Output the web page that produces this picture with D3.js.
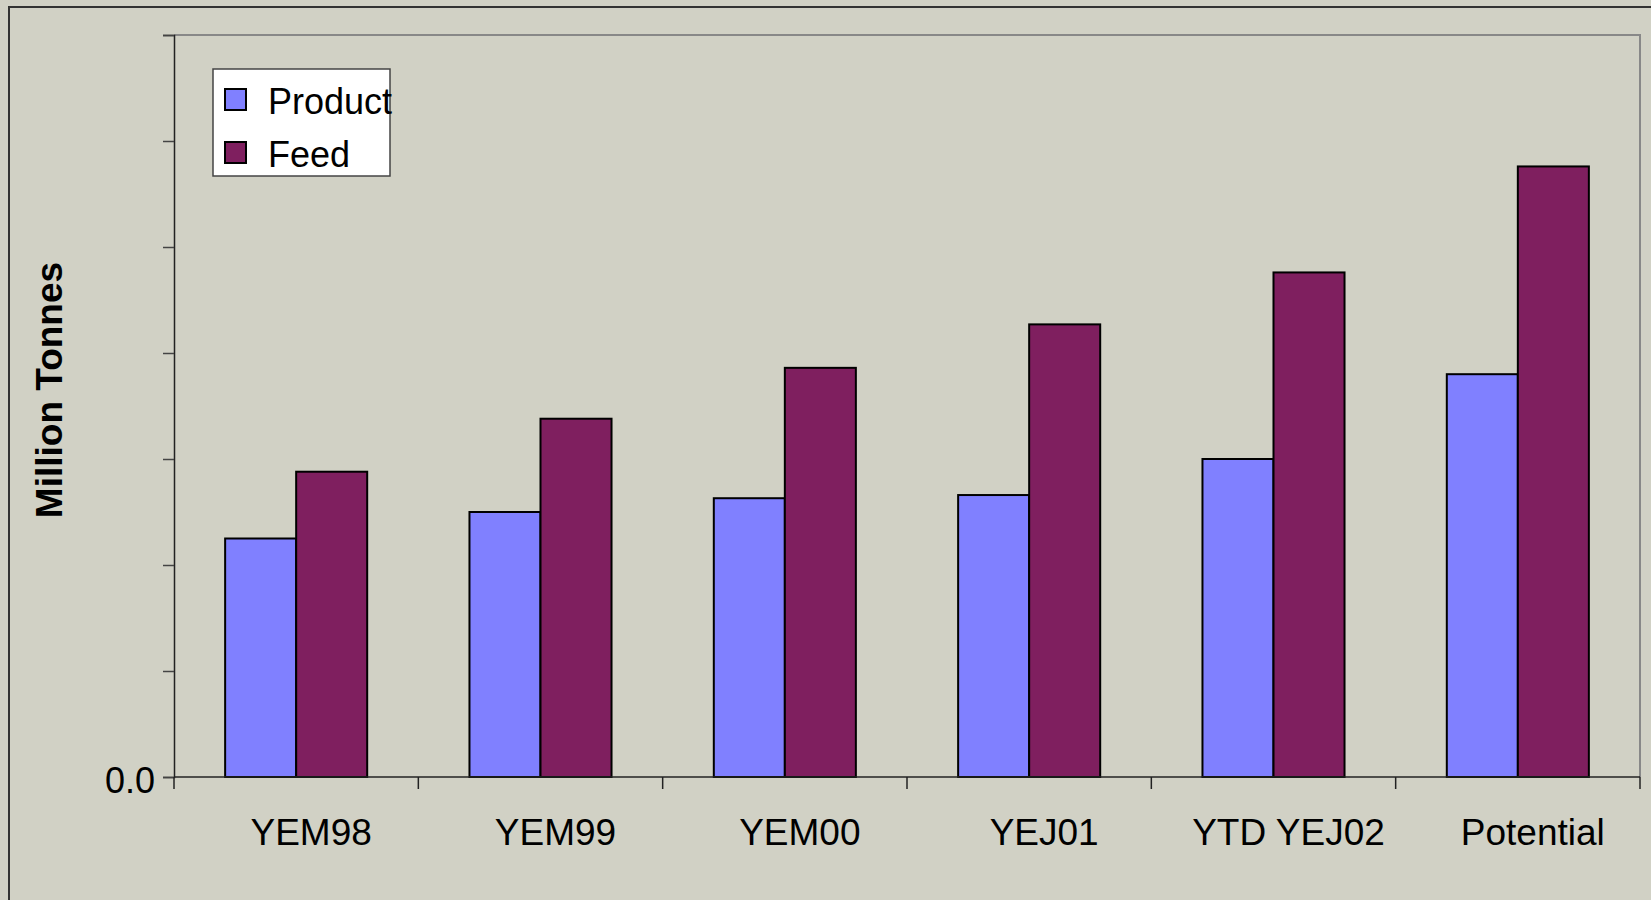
<!DOCTYPE html>
<html>
<head>
<meta charset="utf-8">
<script src="https://cdn.jsdelivr.net/npm/d3@7"></script>
<style>
    html, body { margin: 0; padding: 0; background: #d1d1c5; overflow: hidden; }
    svg { display: block; font-family: "Liberation Sans", Arial, sans-serif; }
</style>
</head>
<body>
<div id="chart"></div>
<script>
// Data :
const categories = ['YEM98', 'YEM99', 'YEM00', 'YEJ01', 'YTD YEJ02', 'Potential'];
const seriesNames = ['Product', 'Feed'];
const productValues = [2.25, 2.50, 2.63, 2.66, 3.00, 3.80];
const feedValues = [2.88, 3.38, 3.86, 4.27, 4.76, 5.76];
const yTicks = [0, 1, 2, 3, 4, 5, 6, 7];
const yTickLabels = ['0.0', '', '', '', '', '', '', ''];
const colors = { Product: '#8080ff', Feed: '#7f1f5f' };

const width = 1651, height = 900;
const margin = [35, 123, 174, 11]; // [top, bottom, left, right]

const svg = d3.select('#chart')
    .append('svg')
    .attr('width', width).attr('height', height);

// Outer chart frame (only left and top are inside the picture)
svg.append('path')
    .attr('d', `M9,${height} V7 H${width}`)
    .attr('fill', 'none')
    .attr('stroke', '#333')
    .attr('stroke-width', 2);

const plotW = width - margin[2] - margin[3],
    plotH = height - margin[0] - margin[1];

const chart = svg.append('g')
    .attr('transform', `translate(${margin[2]},${margin[0]})`);

// Scales :
const x0 = d3.scaleBand(categories, [0, plotW]);
const x1 = d3.scaleBand(seriesNames, [0, x0.bandwidth()]).paddingOuter(0.72);
const y = d3.scaleLinear([0, 7], [plotH, 0]);

// Plot area frame : grey top and right
chart.append('path')
    .attr('d', `M0,0 H${plotW} V${plotH}`)
    .attr('fill', 'none')
    .attr('stroke', '#888')
    .attr('stroke-width', 2);

// Bars
const rows = categories.map((c, i) => ({ cat: c, Product: productValues[i], Feed: feedValues[i] }));
chart.selectAll('g.group')
    .data(rows)
    .join('g')
    .classed('group', true)
    .attr('transform', d => `translate(${x0(d.cat)},0)`)
    .selectAll('rect')
    .data(d => seriesNames.map(s => ({ key: s, value: d[s] })))
    .join('rect')
    .attr('x', d => x1(d.key))
    .attr('y', d => y(d.value))
    .attr('width', x1.bandwidth())
    .attr('height', d => plotH - y(d.value))
    .attr('fill', d => colors[d.key])
    .attr('stroke', '#000')
    .attr('stroke-width', 2);

// Y axis
const axisY = chart.append('g')
    .call(d3.axisLeft(y).tickValues(yTicks).tickSize(11).tickPadding(8)
        .tickFormat((d, i) => yTickLabels[i]));
axisY.select('.domain').attr('stroke', '#222').attr('stroke-width', 1.5);
axisY.selectAll('.tick line').attr('stroke', '#444').attr('stroke-width', 1.5);
axisY.selectAll('.tick text')
    .attr('fill', '#000')
    .style('font-size', '36px')
    .attr('dy', '0.42em');

// X axis : ticks at band boundaries, labels (offset a bit right, like the original)
const axisX = chart.append('g')
    .attr('transform', `translate(0,${plotH})`);
axisX.append('line')
    .attr('x1', 0).attr('x2', plotW)
    .attr('stroke', '#222').attr('stroke-width', 1.5);
axisX.selectAll('line.tick')
    .data(categories.map(c => x0(c)).concat([plotW]))
    .join('line')
    .classed('tick', true)
    .attr('x1', d => d).attr('x2', d => d)
    .attr('y1', 0).attr('y2', 12)
    .attr('stroke', '#222').attr('stroke-width', 1.5);
axisX.selectAll('text')
    .data(categories)
    .join('text')
    .attr('x', d => x0(d) + x0.bandwidth() / 2 + 15)
    .attr('y', 68)
    .attr('text-anchor', 'middle')
    .style('font-size', '37px')
    .text(d => d);

// Y title
svg.append('text')
    .attr('transform', `translate(62,390) rotate(-90)`)
    .attr('text-anchor', 'middle')
    .style('font-size', '37px')
    .style('font-weight', 'bold')
    .text('Million Tonnes');

// Legend
const legend = svg.append('g')
    .attr('transform', 'translate(213,69)');
legend.append('rect')
    .attr('width', 177).attr('height', 107)
    .attr('fill', '#fff')
    .attr('stroke', '#444').attr('stroke-width', 1.5);
const items = legend.selectAll('g.item')
    .data(seriesNames)
    .join('g')
    .classed('item', true)
    .attr('transform', (d, i) => `translate(0,${i * 53})`);
items.append('rect')
    .attr('x', 12).attr('y', 20)
    .attr('width', 21).attr('height', 21)
    .attr('fill', d => colors[d])
    .attr('stroke', '#000').attr('stroke-width', 2);
items.append('text')
    .attr('x', 55).attr('y', 45)
    .style('font-size', '36px')
    .text(d => d);
</script>
</body>
</html>
